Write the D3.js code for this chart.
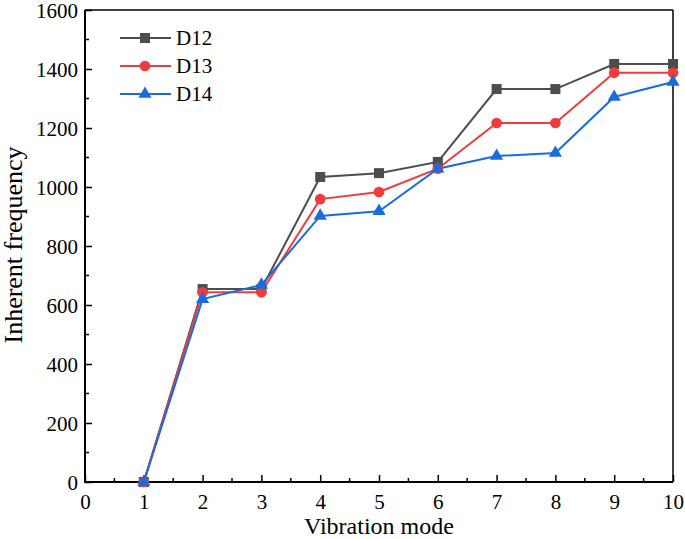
<!DOCTYPE html>
<html><head><meta charset="utf-8">
<script src="https://cdn.jsdelivr.net/npm/d3@7"></script>
<style>body{margin:0;background:#fff;} svg{display:block;} text{font-family:'Liberation Serif','Times New Roman',serif;}</style>
</head><body>
<svg id="chart" width="685" height="539"></svg>
<script>
const modes = [1,2,3,4,5,6,7,8,9,10];
const d12 = [0,654,654,1034,1047,1085,1332,1332,1417,1417];
const d13 = [0,643,643,959,983,1062,1217,1217,1387,1387];
const d14 = [0,620,668,902,918,1062,1105,1115,1305,1356];
const seriesNames = ["D12","D13","D14"];
const xTicks = [0,1,2,3,4,5,6,7,8,9,10];
const yTicks = [0,200,400,600,800,1000,1200,1400,1600];

const svg = d3.select("#chart");
const m = {l:85, r:673, t:10, b:482};
const x = d3.scaleLinear().domain([0,10]).range([m.l,m.r]);
const y = d3.scaleLinear().domain([0,1600]).range([m.b,m.t]);
const font = "'Liberation Serif','Times New Roman',serif";

const series = [
  {name:seriesNames[0], vals:d12, color:"#4d4d4d", sym:d3.symbolSquare, size:100},
  {name:seriesNames[1], vals:d13, color:"#f03c3c", sym:d3.symbolCircle, size:90},
  {name:seriesNames[2], vals:d14, color:"#1a6cdc", sym:d3.symbolTriangle, size:75}
];

// frame top/right
svg.append("line").attr("x1",m.l).attr("x2",m.r).attr("y1",m.t).attr("y2",m.t).attr("stroke","#000").attr("stroke-width",1.5);
svg.append("line").attr("x1",m.r).attr("x2",m.r).attr("y1",m.t).attr("y2",m.b).attr("stroke","#000").attr("stroke-width",1.5);

// minor ticks
const xMinor = d3.range(0.5,10,1);
svg.append("g").selectAll("line").data(xMinor).join("line")
  .attr("x1",d=>x(d)).attr("x2",d=>x(d)).attr("y1",m.b).attr("y2",m.b-4).attr("stroke","#000").attr("stroke-width",1.5);
const yMinor = d3.range(100,1600,200);
svg.append("g").selectAll("line").data(yMinor).join("line")
  .attr("x1",m.l).attr("x2",m.l+4).attr("y1",d=>y(d)).attr("y2",d=>y(d)).attr("stroke","#000").attr("stroke-width",1.5);

// axes
const xAxis = svg.append("g").attr("transform",`translate(0,${m.b})`)
  .call(d3.axisBottom(x).tickValues(xTicks).tickSizeInner(-7).tickSizeOuter(0).tickPadding(12).tickFormat(d3.format("d")));
const yAxis = svg.append("g").attr("transform",`translate(${m.l},0)`)
  .call(d3.axisLeft(y).tickValues(yTicks).tickSizeInner(-7).tickSizeOuter(0).tickPadding(7).tickFormat(d3.format("d")));
[xAxis,yAxis].forEach(g=>{
  g.attr("font-family",font).attr("font-size",21);
  g.select(".domain").attr("stroke","#000").attr("stroke-width",2);
  g.selectAll(".tick line").attr("stroke","#000").attr("stroke-width",1.5);
  g.selectAll(".tick text").style("font-family",font).style("font-size","21px").attr("fill","#000");
});
xAxis.selectAll(".tick text").attr("dy","0.71em");
yAxis.selectAll(".tick text").attr("dy","0.34em");
xAxis.select(".domain").attr("d",`M${m.l-1},0H${m.r}`);
yAxis.select(".domain").attr("d",`M0,${m.b+1}V${m.t}`);

// titles
svg.append("text").attr("x",379).attr("y",534).attr("text-anchor","middle")
  .style("font-size","24px").text("Vibration mode");
svg.append("text").attr("transform",`translate(22,245) rotate(-90)`).attr("text-anchor","middle")
  .style("font-size","26px").text("Inherent frequency");

// lines & markers
const line = d3.line().x((d,i)=>x(modes[i])).y(d=>y(d));
series.forEach(s=>{
  svg.append("path").datum(s.vals).attr("d",line).attr("fill","none").attr("stroke",s.color).attr("stroke-width",2);
});
series.forEach(s=>{
  svg.append("g").selectAll("path").data(s.vals).join("path")
    .attr("transform",(d,i)=>`translate(${x(modes[i])},${y(d)})`)
    .attr("d",d3.symbol().type(s.sym).size(s.size)).attr("fill",s.color);
});

// legend
series.forEach((s,i)=>{
  const ly = 38 + i*28;
  svg.append("line").attr("x1",120).attr("x2",171).attr("y1",ly).attr("y2",ly).attr("stroke",s.color).attr("stroke-width",2);
  svg.append("path").attr("transform",`translate(145,${ly})`).attr("d",d3.symbol().type(s.sym).size(s.size)).attr("fill",s.color);
  svg.append("text").attr("x",176).attr("y",ly+7).style("font-size","21px").text(s.name);
});
</script>
</body></html>
